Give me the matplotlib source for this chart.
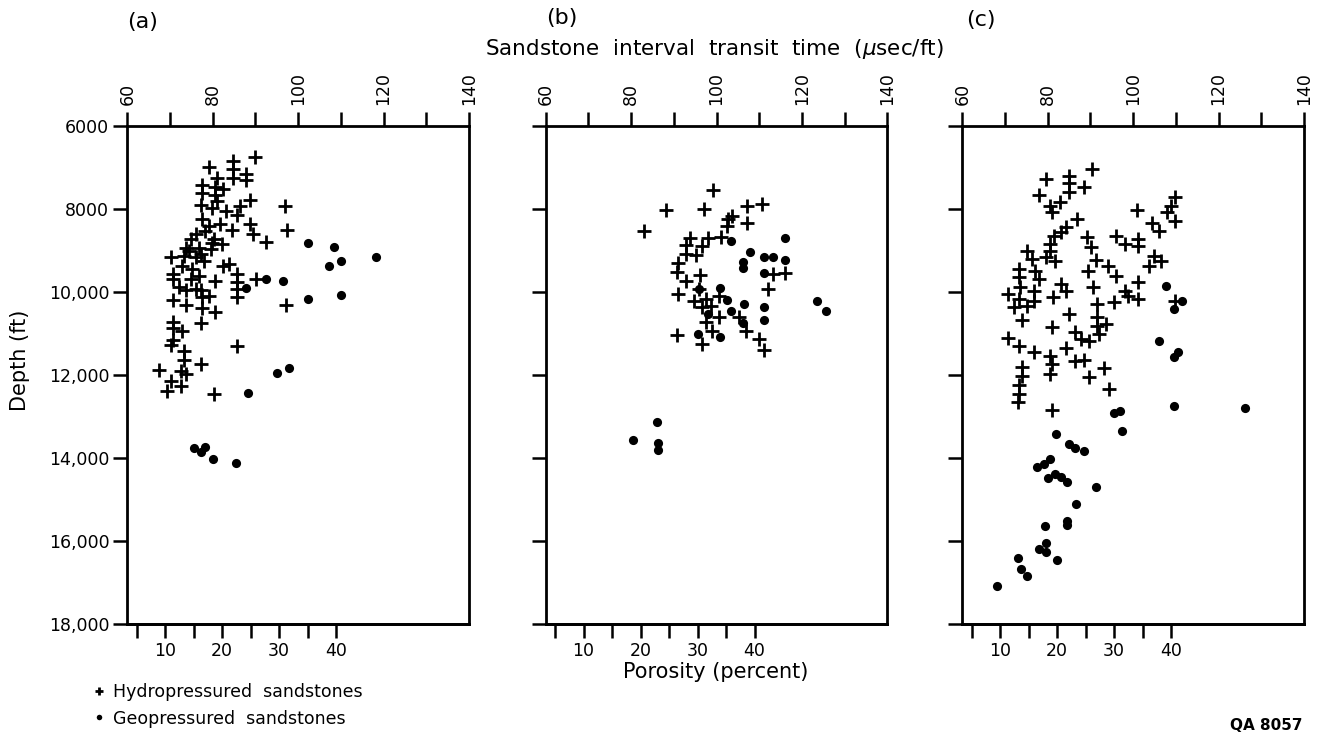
import numpy as np
import matplotlib.pyplot as plt

# (a) transit time (usec/ft) and depth (ft)
a_hydro_t = [90.0, 84.8, 84.8, 87.9, 84.8, 87.8, 79.1, 81.0, 77.5, 80.6, 82.5, 77.5, 80.6, 81.0,
             77.3, 79.8, 88.7, 86.4, 96.8, 83.2, 85.6, 77.5, 88.7, 84.5, 89.5, 97.4, 92.4, 79.1,
             81.8, 76.0, 74.8, 80.2, 82.2, 73.7, 76.8, 79.5, 70.2, 73.3, 76.0, 77.9, 72.9, 75.2,
             82.5, 83.7, 70.6, 70.6, 74.8, 76.8, 80.6, 85.6, 85.6, 85.6, 90.2, 72.2, 73.7, 76.0,
             77.2, 85.6, 70.6, 73.7, 77.5, 79.1, 77.5, 80.6, 97.2, 77.3, 70.6, 70.6, 72.9, 85.6,
             70.6, 70.2, 73.3, 73.3, 77.2, 67.5, 72.5, 73.7, 70.2, 72.5, 69.3, 80.4, 78.3, 79.8,
             77.2, 74.5]
a_hydro_d = [6745, 6841, 7047, 7158, 7262, 7301, 6984, 7262, 7420, 7460, 7524, 7619, 7659, 7817,
             7913, 7976, 7778, 7921, 7921, 8050, 8135, 8254, 8373, 8508, 8611, 8508, 8794, 8413,
             8373, 8611, 8730, 8730, 8850, 8929, 8929, 8969, 9167, 9127, 9167, 9247, 9366, 9445,
             9366, 9326, 9564, 9683, 9683, 9604, 9747, 9564, 9763, 9921, 9683, 9882, 9961, 9921,
             9961, 10120, 10199, 10303, 10120, 10096, 10382, 10493, 10303, 10755, 10731, 10874,
             10938, 11295, 11152, 11287, 11430, 11628, 11748, 11891, 11907, 11986, 12145, 12264,
             12383, 12462, 8532, 8810, 9088, 9008]
a_geo_t = [102.3, 108.3, 118.3, 110.1, 107.2, 92.4, 96.4, 87.9, 102.3, 110.0, 97.9, 95.1, 88.2,
           75.6, 77.2, 78.3, 80.1, 85.4]
a_geo_d = [8810, 8905, 9151, 9255, 9366, 9683, 9747, 9906, 10160, 10064, 11827, 11962, 12431,
           13772, 13868, 13733, 14019, 14114]

# (b)
b_hydro_t = [99.1, 88.2, 97.1, 107.1, 110.7, 83.0, 103.5, 102.6, 102.4, 107.1, 93.7, 98.0, 101.0,
             92.8, 96.7, 92.8, 95.1, 91.0, 90.8, 96.1, 92.8, 113.2, 116.1, 112.0, 91.0, 95.8,
             94.7, 97.5, 98.7, 96.7, 100.6, 97.5, 98.9, 105.3, 106.9, 90.8, 96.7, 110.0, 111.2,
             100.6]
b_hydro_d = [7532, 8032, 7992, 7929, 7889, 8532, 8167, 8246, 8413, 8349, 8707, 8691, 8667, 8866,
             8882, 9088, 9120, 9302, 9517, 9580, 9739, 9564, 9540, 9937, 10041, 9937, 10215,
             10176, 10334, 10374, 10612, 10731, 10930, 10612, 10930, 11049, 11247, 11144, 11390,
             10096]
b_geo_t = [103.4, 115.9, 107.8, 111.2, 113.2, 115.9, 106.1, 106.1, 111.0, 95.8, 100.9, 102.4,
           106.3, 103.4, 111.2, 106.1, 111.2, 97.9, 95.7, 100.8, 123.4, 125.7, 86.0, 80.5, 86.3,
           86.3]
b_geo_d = [8770, 8691, 9040, 9167, 9167, 9239, 9278, 9421, 9540, 9937, 9898, 10200, 10295, 10453,
           10374, 10755, 10676, 10533, 11025, 11089, 10215, 10453, 13137, 13566, 13629, 13804]

# (c)
c_hydro_t = [90.4, 79.5, 84.9, 84.9, 84.9, 88.5, 78.0, 80.6, 81.0, 82.9, 86.9, 84.2, 83.0, 81.4,
             80.6, 80.6, 79.5, 81.8, 75.1, 76.3, 73.2, 73.2, 73.6, 77.1, 77.9, 76.7, 76.7, 75.1,
             70.8, 73.2, 72.0, 74.0, 81.3, 83.0, 84.2, 89.1, 90.2, 91.4, 94.0, 89.5, 90.6, 91.5,
             84.9, 91.5, 93.6, 91.5, 91.9, 81.0, 86.5, 87.7, 89.6, 70.8, 73.2, 76.9, 80.6, 81.0,
             80.6, 84.2, 86.5, 88.5, 93.2, 89.6, 94.4, 74.0, 74.0, 73.2, 73.2, 73.0, 81.0, 100.8,
             104.3, 106.1, 109.7, 108.9, 107.9, 109.7, 96.1, 98.0, 101.1, 101.1, 104.8, 103.8,
             106.6, 96.1, 101.1, 98.0, 98.7, 95.5, 101.1, 109.7]
c_hydro_d = [7036, 7277, 7197, 7382, 7582, 7478, 7663, 7920, 8080, 7839, 8241, 8426, 8562, 8642,
             8843, 9004, 9164, 9261, 9020, 9205, 9445, 9646, 9887, 9486, 9686, 9967, 10208, 10329,
             10048, 10168, 10369, 10674, 10112, 9807, 9967, 8683, 8907, 9229, 9365, 9502, 9887,
             10289, 10530, 10610, 10771, 10811, 11011, 10851, 10971, 11132, 11172, 11116, 11292,
             11453, 11533, 11734, 11975, 11348, 11654, 11638, 11831, 12055, 12336, 11815, 12015,
             12232, 12457, 12658, 12834, 8024, 8337, 8522, 7719, 7920, 8080, 8281, 8642, 8843,
             8723, 8883, 9124, 9365, 9261, 9606, 9767, 9967, 10088, 10249, 10168, 10208]
c_geo_t = [107.8, 111.5, 109.6, 106.0, 110.4, 109.6, 109.6, 126.1, 95.5, 96.9, 97.3, 82.0, 85.0,
           86.5, 88.5, 77.5, 79.1, 80.5, 80.0, 81.8, 83.0, 84.4, 91.4, 86.7, 84.4, 84.6, 79.3,
           77.9, 79.7, 79.5, 82.2, 73.0, 73.8, 75.1, 68.1]
c_geo_d = [9863, 10208, 10417, 11172, 11453, 11573, 12754, 12802, 12922, 12858, 13340, 13420,
           13661, 13766, 13822, 14207, 14143, 14023, 14480, 14384, 14448, 14569, 14705, 15107,
           15508, 15604, 15628, 16191, 16054, 16271, 16448, 16407, 16672, 16833, 17090]

depth_ticks = [6000, 8000, 10000, 12000, 14000, 16000, 18000]
depth_labels = ["6000", "8000", "10,000", "12,000", "14,000", "16,000", "18,000"]
time_ticks = list(range(60, 141, 10))
poro_ticks = [5, 10, 15, 20, 25, 30, 35, 40]


# time-average relation between transit time and porosity
def t_to_phi(t):
    return (np.asarray(t) - 55.5) / 1.335


def phi_to_t(p):
    return 55.5 + 1.335 * np.asarray(p)


fig = plt.figure(figsize=(13.22, 7.43), dpi=100)

panels = [
    (0.0963, a_hydro_t, a_hydro_d, a_geo_t, a_geo_d),
    (0.4128, b_hydro_t, b_hydro_d, b_geo_t, b_geo_d),
    (0.7279, c_hydro_t, c_hydro_d, c_geo_t, c_geo_d),
]

handles = None
for i, (left, ht, hd, gt, gd) in enumerate(panels):
    ax = fig.add_axes([left, 0.1602, 0.2585, 0.6703])
    h1, = ax.plot(ht, hd, "+", color="black", ms=9.5, mew=2.0, linestyle="none")
    h2, = ax.plot(gt, gd, "o", color="black", ms=6.6, mew=0, linestyle="none")
    if handles is None:
        handles = [h1, h2]
    ax.set_xlim(60, 140)
    ax.set_ylim(18000, 6000)
    for s in ax.spines.values():
        s.set_linewidth(2)

    ax.xaxis.tick_top()
    ax.set_xticks(time_ticks)
    ax.set_xticklabels([str(v) if v % 20 == 0 else "" for v in time_ticks], rotation=90)
    ax.tick_params(axis="x", top=True, bottom=False, direction="out", length=10,
                   width=1.8, pad=5, labelsize=12.5)

    ax.set_yticks(depth_ticks)
    if i == 0:
        ax.set_yticklabels(depth_labels)
    else:
        ax.set_yticklabels([])
    ax.tick_params(axis="y", direction="out", length=10, width=1.8, pad=3, labelsize=12.5)

    sec = ax.secondary_xaxis("bottom", functions=(t_to_phi, phi_to_t))
    sec.set_xticks(poro_ticks)
    sec.set_xticklabels([str(p) if p % 10 == 0 else "" for p in poro_ticks])
    sec.tick_params(direction="out", length=10, width=1.8, pad=3, labelsize=12.5)
    sec.spines["bottom"].set_linewidth(2)

fig.text(0.108, 0.970, "(a)", fontsize=16, ha="center", va="center")
fig.text(0.425, 0.976, "(b)", fontsize=16, ha="center", va="center")
fig.text(0.742, 0.973, "(c)", fontsize=16, ha="center", va="center")
fig.text(0.5405, 0.934, r"Sandstone  interval  transit  time  ($\mu$sec/ft)",
         fontsize=15.5, ha="center", va="center")
fig.text(0.015, 0.515, "Depth (ft)", fontsize=15, rotation=90, ha="center", va="center")
fig.text(0.541, 0.0956, "Porosity (percent)", fontsize=15, ha="center", va="center")
fig.text(0.985, 0.024, "QA 8057", fontsize=11, fontweight="bold", ha="right", va="center")

fig.legend(handles, ["Hydropressured  sandstones", "Geopressured  sandstones"],
           loc="upper left", bbox_to_anchor=(0.058, 0.102), frameon=False, fontsize=12.5,
           handlelength=0.8, handletextpad=0.4, labelspacing=0.5, markerscale=0.6)

fig.savefig("out.png", dpi=100)
